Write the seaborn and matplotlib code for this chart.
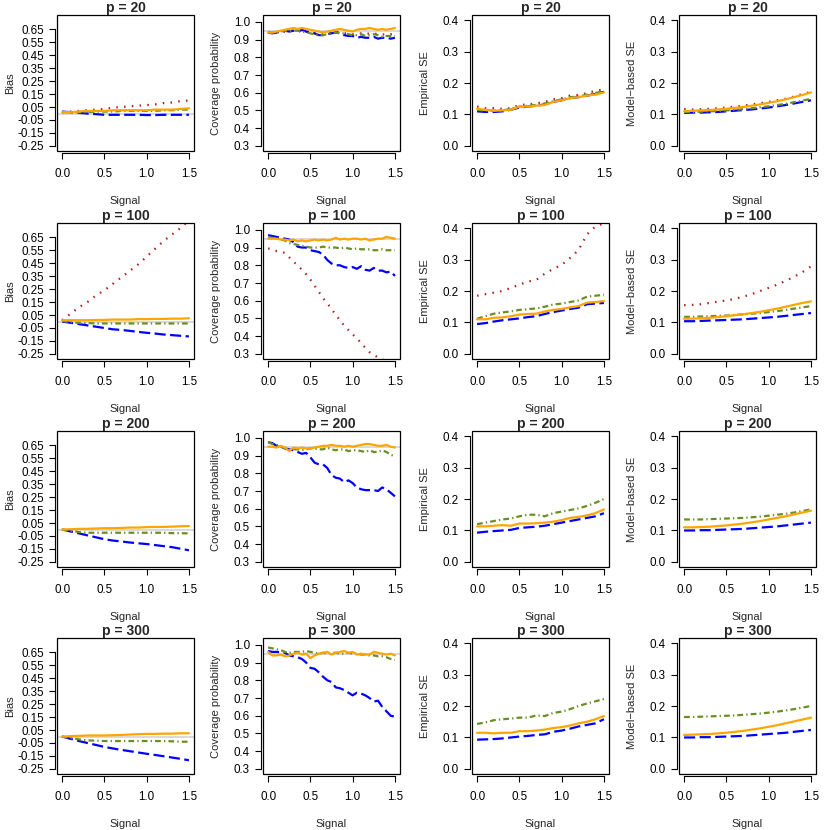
import matplotlib
matplotlib.use("Agg")
import pandas as pd
import matplotlib.pyplot as plt
from matplotlib.patches import Rectangle
import seaborn as sns

# x grids
signal16 = [0.0, 0.1, 0.2, 0.3, 0.4, 0.5, 0.6, 0.7, 0.8, 0.9, 1.0, 1.1, 1.2, 1.3, 1.4, 1.5]
signal31 = [0.0, 0.05, 0.1, 0.15, 0.2, 0.25, 0.3, 0.35, 0.4, 0.45, 0.5, 0.55, 0.6, 0.65, 0.7, 0.75,
            0.8, 0.85, 0.9, 0.95, 1.0, 1.05, 1.1, 1.15, 1.2, 1.25, 1.3, 1.35, 1.4, 1.45, 1.5]

p_values = [20, 100, 200, 300]
measures = ["Bias", "Coverage probability", "Empirical SE", "Model\u2212based SE"]
methods = ["red", "blue", "green", "orange"]

# ---- Bias ----
bias_p20_red = [0.01, 0.015, 0.02, 0.025, 0.03, 0.035, 0.045, 0.05, 0.055, 0.06, 0.065, 0.07, 0.08, 0.085, 0.095, 0.10]
bias_p20_blue = [0.015, 0.01, 0.005, 0.0, -0.005, -0.01, -0.01, -0.01, -0.01, -0.01, -0.012, -0.012, -0.01, -0.01, -0.01, -0.01]
bias_p20_green = [0.01, 0.01, 0.01, 0.01, 0.015, 0.015, 0.015, 0.02, 0.02, 0.02, 0.02, 0.02, 0.025, 0.025, 0.03, 0.03]
bias_p20_orange = [0.01, 0.01, 0.015, 0.02, 0.02, 0.02, 0.025, 0.025, 0.025, 0.025, 0.025, 0.03, 0.03, 0.03, 0.035, 0.04]

bias_p100_red = [0.01, 0.06, 0.11, 0.15, 0.2, 0.24, 0.29, 0.34, 0.39, 0.44, 0.5, 0.56, 0.62, 0.67, 0.72, 0.78]
bias_p100_blue = [0.0, -0.01, -0.02, -0.03, -0.04, -0.05, -0.06, -0.065, -0.072, -0.08, -0.087, -0.093, -0.1, -0.105, -0.11, -0.115]
bias_p100_green = [0.005, -0.005, -0.01, -0.012, -0.015, -0.015, -0.015, -0.015, -0.015, -0.015, -0.015, -0.015, -0.015, -0.015, -0.015, -0.015]
bias_p100_orange = [0.01, 0.01, 0.01, 0.01, 0.012, 0.012, 0.015, 0.015, 0.015, 0.018, 0.018, 0.02, 0.02, 0.022, 0.022, 0.025]

bias_p200_blue = [0.0, -0.015, -0.03, -0.045, -0.06, -0.075, -0.085, -0.092, -0.1, -0.106, -0.112, -0.12, -0.128, -0.136, -0.148, -0.16]
bias_p200_green = [0.0, -0.01, -0.02, -0.025, -0.025, -0.025, -0.025, -0.025, -0.025, -0.025, -0.025, -0.025, -0.025, -0.028, -0.028, -0.03]
bias_p200_orange = [0.0, 0.002, 0.005, 0.005, 0.008, 0.01, 0.01, 0.012, 0.015, 0.015, 0.018, 0.02, 0.02, 0.022, 0.025, 0.027]

bias_p300_blue = [0.0, -0.018, -0.035, -0.05, -0.065, -0.08, -0.092, -0.103, -0.113, -0.123, -0.133, -0.142, -0.152, -0.162, -0.172, -0.183]
bias_p300_green = [0.0, -0.012, -0.022, -0.03, -0.032, -0.035, -0.035, -0.035, -0.035, -0.035, -0.035, -0.035, -0.035, -0.037, -0.04, -0.04]
bias_p300_orange = [0.0, 0.003, 0.005, 0.008, 0.008, 0.008, 0.01, 0.012, 0.015, 0.018, 0.02, 0.02, 0.022, 0.022, 0.025, 0.025]

# ---- Coverage probability ----
cov_p20_red = [0.94, 0.935, 0.94, 0.94, 0.945, 0.95, 0.95, 0.945, 0.95, 0.945, 0.94, 0.935, 0.93, 0.93, 0.935, 0.94,
               0.945, 0.94, 0.935, 0.935, 0.93, 0.93, 0.935, 0.93, 0.935, 0.93, 0.935, 0.93, 0.925, 0.93, 0.93]
cov_p20_blue = [0.94, 0.935, 0.94, 0.945, 0.95, 0.945, 0.95, 0.945, 0.955, 0.945, 0.94, 0.935, 0.925, 0.925, 0.93, 0.935,
                0.94, 0.935, 0.925, 0.92, 0.92, 0.91, 0.915, 0.91, 0.91, 0.915, 0.905, 0.91, 0.91, 0.905, 0.91]
cov_p20_green = [0.94, 0.94, 0.94, 0.945, 0.95, 0.945, 0.95, 0.95, 0.945, 0.94, 0.935, 0.93, 0.925, 0.925, 0.93, 0.935,
                 0.94, 0.935, 0.935, 0.93, 0.925, 0.925, 0.93, 0.92, 0.925, 0.93, 0.925, 0.915, 0.92, 0.92, 0.92]
cov_p20_orange = [0.94, 0.94, 0.945, 0.95, 0.955, 0.96, 0.965, 0.96, 0.965, 0.96, 0.955, 0.95, 0.945, 0.94, 0.945, 0.95,
                  0.955, 0.96, 0.955, 0.95, 0.945, 0.955, 0.96, 0.96, 0.965, 0.96, 0.955, 0.96, 0.955, 0.96, 0.965]

cov_p100_red = [0.895, 0.89, 0.88, 0.875, 0.87, 0.845, 0.82, 0.8, 0.775, 0.75, 0.72, 0.685, 0.65, 0.615, 0.585, 0.555,
                0.52, 0.49, 0.46, 0.435, 0.41, 0.39, 0.36, 0.335, 0.31, 0.295, 0.28, 0.27, 0.255, 0.24, 0.23]
cov_p100_blue = [0.97, 0.965, 0.96, 0.955, 0.95, 0.945, 0.93, 0.905, 0.9, 0.9, 0.885, 0.88, 0.875, 0.86, 0.83, 0.81,
                 0.8, 0.8, 0.79, 0.785, 0.79, 0.78, 0.795, 0.775, 0.77, 0.785, 0.77, 0.77, 0.76, 0.765, 0.74]
cov_p100_green = [0.955, 0.955, 0.95, 0.945, 0.94, 0.925, 0.92, 0.915, 0.91, 0.905, 0.9, 0.9, 0.9, 0.905, 0.9, 0.9,
                  0.9, 0.895, 0.9, 0.895, 0.89, 0.895, 0.89, 0.89, 0.89, 0.885, 0.885, 0.89, 0.885, 0.885, 0.885]
cov_p100_orange = [0.95, 0.95, 0.95, 0.945, 0.945, 0.94, 0.945, 0.935, 0.94, 0.935, 0.94, 0.945, 0.94, 0.945, 0.94, 0.945,
                   0.955, 0.945, 0.95, 0.945, 0.95, 0.95, 0.945, 0.95, 0.94, 0.945, 0.95, 0.95, 0.96, 0.955, 0.95]

cov_p200_blue = [0.975, 0.97, 0.955, 0.95, 0.94, 0.935, 0.93, 0.92, 0.91, 0.915, 0.89, 0.86, 0.85, 0.85, 0.83, 0.79,
                 0.775, 0.77, 0.75, 0.76, 0.745, 0.72, 0.71, 0.705, 0.705, 0.705, 0.7, 0.72, 0.71, 0.69, 0.67]
cov_p200_green = [0.975, 0.965, 0.96, 0.95, 0.94, 0.935, 0.935, 0.935, 0.93, 0.935, 0.94, 0.94, 0.935, 0.935, 0.945, 0.935,
                  0.93, 0.935, 0.935, 0.925, 0.93, 0.93, 0.925, 0.92, 0.93, 0.92, 0.92, 0.93, 0.92, 0.905, 0.895]
cov_p200_orange = [0.95, 0.95, 0.945, 0.955, 0.945, 0.925, 0.945, 0.94, 0.945, 0.94, 0.94, 0.945, 0.95, 0.955, 0.955, 0.96,
                   0.955, 0.955, 0.95, 0.955, 0.95, 0.955, 0.96, 0.965, 0.965, 0.96, 0.955, 0.955, 0.96, 0.95, 0.945]

cov_p300_blue = [0.965, 0.96, 0.96, 0.958, 0.955, 0.94, 0.935, 0.93, 0.92, 0.9, 0.87, 0.865, 0.845, 0.82, 0.8, 0.79,
                 0.76, 0.755, 0.745, 0.73, 0.715, 0.73, 0.725, 0.715, 0.7, 0.68, 0.685, 0.65, 0.625, 0.6, 0.595]
cov_p300_green = [0.985, 0.98, 0.975, 0.97, 0.96, 0.955, 0.96, 0.96, 0.96, 0.965, 0.96, 0.955, 0.95, 0.955, 0.95, 0.955,
                  0.955, 0.95, 0.95, 0.955, 0.95, 0.95, 0.945, 0.945, 0.94, 0.94, 0.935, 0.935, 0.93, 0.92, 0.915]
cov_p300_orange = [0.96, 0.94, 0.94, 0.945, 0.935, 0.94, 0.95, 0.955, 0.945, 0.95, 0.925, 0.94, 0.95, 0.955, 0.96, 0.945,
                   0.955, 0.96, 0.965, 0.955, 0.96, 0.945, 0.95, 0.945, 0.945, 0.96, 0.955, 0.95, 0.945, 0.95, 0.94]

# ---- Empirical SE ----
emp_p20_red = [0.125, 0.12, 0.12, 0.118, 0.12, 0.13, 0.132, 0.135, 0.14, 0.148, 0.152, 0.16, 0.162, 0.168, 0.175, 0.18]
emp_p20_blue = [0.11, 0.108, 0.108, 0.11, 0.115, 0.122, 0.125, 0.128, 0.132, 0.14, 0.145, 0.152, 0.155, 0.16, 0.165, 0.172]
emp_p20_green = [0.115, 0.112, 0.112, 0.113, 0.118, 0.125, 0.128, 0.13, 0.135, 0.142, 0.148, 0.155, 0.157, 0.163, 0.168, 0.175]
emp_p20_orange = [0.118, 0.115, 0.112, 0.113, 0.115, 0.125, 0.125, 0.128, 0.13, 0.14, 0.145, 0.152, 0.155, 0.16, 0.163, 0.17]

emp_p100_red = [0.185, 0.19, 0.195, 0.2, 0.21, 0.22, 0.23, 0.235, 0.255, 0.27, 0.283, 0.305, 0.33, 0.38, 0.405, 0.415]
emp_p100_blue = [0.095, 0.098, 0.103, 0.107, 0.11, 0.113, 0.117, 0.12, 0.127, 0.133, 0.138, 0.143, 0.147, 0.158, 0.16, 0.162]
emp_p100_green = [0.112, 0.12, 0.128, 0.132, 0.135, 0.14, 0.142, 0.145, 0.15, 0.157, 0.16, 0.165, 0.17, 0.182, 0.185, 0.188]
emp_p100_orange = [0.11, 0.11, 0.115, 0.116, 0.12, 0.125, 0.127, 0.128, 0.135, 0.14, 0.143, 0.148, 0.152, 0.163, 0.165, 0.168]

emp_p200_blue = [0.093, 0.096, 0.098, 0.1, 0.102, 0.108, 0.11, 0.112, 0.115, 0.12, 0.125, 0.13, 0.135, 0.14, 0.145, 0.155]
emp_p200_green = [0.12, 0.125, 0.13, 0.135, 0.138, 0.145, 0.15, 0.15, 0.145, 0.155, 0.16, 0.165, 0.17, 0.178, 0.188, 0.2]
emp_p200_orange = [0.113, 0.113, 0.115, 0.117, 0.115, 0.122, 0.122, 0.123, 0.125, 0.128, 0.133, 0.14, 0.143, 0.148, 0.155, 0.167]

emp_p300_blue = [0.093, 0.094, 0.095, 0.097, 0.1, 0.103, 0.105, 0.108, 0.11, 0.118, 0.122, 0.128, 0.135, 0.14, 0.145, 0.158]
emp_p300_green = [0.143, 0.148, 0.155, 0.158, 0.16, 0.163, 0.163, 0.17, 0.168, 0.178, 0.182, 0.19, 0.2, 0.208, 0.215, 0.222]
emp_p300_orange = [0.115, 0.115, 0.113, 0.115, 0.115, 0.12, 0.12, 0.122, 0.125, 0.13, 0.133, 0.138, 0.145, 0.15, 0.158, 0.168]

# ---- Model-based SE ----
mod_p20_red = [0.117, 0.116, 0.117, 0.118, 0.12, 0.122, 0.125, 0.128, 0.132, 0.136, 0.14, 0.145, 0.15, 0.157, 0.165, 0.172]
mod_p20_blue = [0.105, 0.106, 0.106, 0.107, 0.108, 0.11, 0.112, 0.114, 0.116, 0.119, 0.122, 0.126, 0.13, 0.135, 0.14, 0.145]
mod_p20_green = [0.108, 0.108, 0.109, 0.11, 0.111, 0.113, 0.115, 0.117, 0.12, 0.123, 0.126, 0.13, 0.134, 0.139, 0.144, 0.15]
mod_p20_orange = [0.11, 0.112, 0.113, 0.114, 0.116, 0.118, 0.121, 0.124, 0.128, 0.132, 0.137, 0.142, 0.148, 0.155, 0.162, 0.17]

mod_p100_red = [0.155, 0.156, 0.158, 0.162, 0.166, 0.17, 0.175, 0.182, 0.19, 0.2, 0.21, 0.22, 0.232, 0.245, 0.26, 0.278]
mod_p100_blue = [0.104, 0.104, 0.105, 0.106, 0.107, 0.108, 0.109, 0.11, 0.112, 0.114, 0.116, 0.118, 0.121, 0.124, 0.127, 0.13]
mod_p100_green = [0.118, 0.118, 0.119, 0.12, 0.121, 0.122, 0.124, 0.126, 0.128, 0.13, 0.133, 0.136, 0.14, 0.144, 0.148, 0.152]
mod_p100_orange = [0.112, 0.112, 0.113, 0.115, 0.117, 0.12, 0.123, 0.126, 0.13, 0.134, 0.139, 0.144, 0.15, 0.156, 0.162, 0.167]

mod_p200_blue = [0.1, 0.1, 0.101, 0.101, 0.102, 0.103, 0.104, 0.105, 0.107, 0.109, 0.111, 0.113, 0.116, 0.119, 0.122, 0.125]
mod_p200_green = [0.135, 0.135, 0.135, 0.136, 0.137, 0.138, 0.139, 0.14, 0.142, 0.144, 0.147, 0.15, 0.153, 0.157, 0.162, 0.167]
mod_p200_orange = [0.11, 0.11, 0.111, 0.112, 0.114, 0.116, 0.119, 0.122, 0.126, 0.13, 0.135, 0.14, 0.145, 0.151, 0.157, 0.163]

mod_p300_blue = [0.1, 0.1, 0.101, 0.101, 0.102, 0.103, 0.104, 0.105, 0.107, 0.109, 0.111, 0.113, 0.115, 0.118, 0.121, 0.124]
mod_p300_green = [0.165, 0.165, 0.166, 0.167, 0.168, 0.169, 0.17, 0.172, 0.174, 0.176, 0.179, 0.182, 0.186, 0.19, 0.195, 0.2]
mod_p300_orange = [0.108, 0.109, 0.11, 0.111, 0.113, 0.115, 0.118, 0.121, 0.125, 0.129, 0.134, 0.139, 0.145, 0.151, 0.157, 0.163]

x_ticks = [0.0, 0.5, 1.0, 1.5]
bias_ticks = [-0.25, -0.15, -0.05, 0.05, 0.15, 0.25, 0.35, 0.45, 0.55, 0.65]
cov_ticks = [0.3, 0.4, 0.5, 0.6, 0.7, 0.8, 0.9, 1.0]
se_ticks = [0.0, 0.1, 0.2, 0.3, 0.4]

# panel table: rows = p, cols = measure
panels = {
    (0, 0): (signal16, {"red": bias_p20_red, "blue": bias_p20_blue, "green": bias_p20_green, "orange": bias_p20_orange}),
    (1, 0): (signal16, {"red": bias_p100_red, "blue": bias_p100_blue, "green": bias_p100_green, "orange": bias_p100_orange}),
    (2, 0): (signal16, {"blue": bias_p200_blue, "green": bias_p200_green, "orange": bias_p200_orange}),
    (3, 0): (signal16, {"blue": bias_p300_blue, "green": bias_p300_green, "orange": bias_p300_orange}),
    (0, 1): (signal31, {"red": cov_p20_red, "blue": cov_p20_blue, "green": cov_p20_green, "orange": cov_p20_orange}),
    (1, 1): (signal31, {"red": cov_p100_red, "blue": cov_p100_blue, "green": cov_p100_green, "orange": cov_p100_orange}),
    (2, 1): (signal31, {"blue": cov_p200_blue, "green": cov_p200_green, "orange": cov_p200_orange}),
    (3, 1): (signal31, {"blue": cov_p300_blue, "green": cov_p300_green, "orange": cov_p300_orange}),
    (0, 2): (signal16, {"red": emp_p20_red, "blue": emp_p20_blue, "green": emp_p20_green, "orange": emp_p20_orange}),
    (1, 2): (signal16, {"red": emp_p100_red, "blue": emp_p100_blue, "green": emp_p100_green, "orange": emp_p100_orange}),
    (2, 2): (signal16, {"blue": emp_p200_blue, "green": emp_p200_green, "orange": emp_p200_orange}),
    (3, 2): (signal16, {"blue": emp_p300_blue, "green": emp_p300_green, "orange": emp_p300_orange}),
    (0, 3): (signal16, {"red": mod_p20_red, "blue": mod_p20_blue, "green": mod_p20_green, "orange": mod_p20_orange}),
    (1, 3): (signal16, {"red": mod_p100_red, "blue": mod_p100_blue, "green": mod_p100_green, "orange": mod_p100_orange}),
    (2, 3): (signal16, {"blue": mod_p200_blue, "green": mod_p200_green, "orange": mod_p200_orange}),
    (3, 3): (signal16, {"blue": mod_p300_blue, "green": mod_p300_green, "orange": mod_p300_orange}),
}

sns.set_theme(style="white")
plt.rcParams["font.family"] = ["Liberation Sans", "DejaVu Sans"]

palette = {"red": "#B22222", "blue": "#0000FF", "green": "#6B8E23", "orange": "#FFA500"}
dashes = {"red": (0.7, 2.8), "blue": (5.0, 2.0), "green": (2.6, 1.4, 0.6, 1.4), "orange": ""}

# layout in pixels (R base graphics look)
col_left = [57, 263, 472, 679]
row_top = [15, 223, 431, 638]
box_w, box_h = 137, 136
W = H = 830

col_setup = [
    ((-0.2888, 0.7588), bias_ticks, "{:.2f}", 0.0),
    ((0.2716, 1.0384), cov_ticks, "{:.1f}", 0.95),
    ((-0.016, 0.416), se_ticks, "{:.1f}", None),
    ((-0.016, 0.416), se_ticks, "{:.1f}", None),
]

fig = plt.figure(figsize=(8.3, 8.3), dpi=100)
fig.set_facecolor("white")

for (r, c), (xs, series) in panels.items():
    ax = fig.add_axes([col_left[c] / W, 1 - (row_top[r] + box_h) / H, box_w / W, box_h / H])
    ylim, yticks, fmt, ref = col_setup[c]

    if ref is not None:
        ax.axhline(ref, color="#D0D0D0", lw=1.1, zorder=1)

    order = [m for m in methods if m in series]
    df = pd.concat([pd.DataFrame({"signal": xs, "value": series[m], "method": m}) for m in order])
    sns.lineplot(data=df, x="signal", y="value", hue="method", style="method",
                 hue_order=order, style_order=order, palette=palette, dashes=dashes,
                 estimator=None, sort=False, linewidth=1.6, legend=False, ax=ax)

    ax.set_xlim(-0.06, 1.56)
    ax.set_ylim(*ylim)
    ax.set_xticks(x_ticks)
    ax.set_xticklabels([f"{v:.1f}" for v in x_ticks])
    ax.set_yticks(yticks)
    ax.set_yticklabels([fmt.format(v) for v in yticks])

    for s in ["top", "right"]:
        ax.spines[s].set_visible(False)
    for s in ["left", "bottom"]:
        ax.spines[s].set_position(("outward", 1.5))
        ax.spines[s].set_color("black")
        ax.spines[s].set_linewidth(0.8)
    ax.spines["bottom"].set_bounds(x_ticks[0], x_ticks[-1])
    ax.spines["left"].set_bounds(yticks[0], yticks[-1])
    ax.add_patch(Rectangle((0, 0), 1, 1, transform=ax.transAxes, fill=False,
                           ec="black", lw=0.9, clip_on=False, zorder=5))

    ax.tick_params(axis="both", bottom=True, left=True, direction="out", length=4,
                   width=0.8, color="black", labelsize=8.4, labelcolor="black")
    ax.tick_params(axis="x", pad=7)
    ax.tick_params(axis="y", pad=4)

    ax.set_xlabel("Signal", fontsize=8)
    ax.set_ylabel(measures[c], fontsize=8)
    ax.xaxis.set_label_coords(0.5, -0.33)
    ax.yaxis.set_label_coords(-0.305, 0.5)
    ax.set_title(f"p = {p_values[r]}", fontsize=10, fontweight="bold", pad=2)

fig.savefig("out.png", dpi=100, facecolor="white")
